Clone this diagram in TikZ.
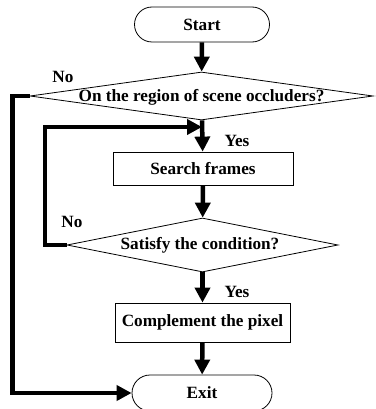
\documentclass[tikz,border=0pt]{standalone}
\usepackage{fontspec}
\setmainfont{Liberation Serif}
\usetikzlibrary{shapes.geometric,shapes.misc,arrows.meta}
\begin{document}
\begin{tikzpicture}[x=1pt,y=-1pt,
  txt/.style={font=\fontsize{17.2}{20}\selectfont\bfseries, inner sep=0pt},
  term/.style={rounded rectangle, draw, line width=0.8pt, inner sep=0pt, txt},
  proc/.style={rectangle, draw, line width=0.8pt, inner sep=0pt, txt},
  dia/.style={diamond, draw, line width=0.8pt, inner sep=0pt},
  flow/.style={line width=4.5pt, line join=miter, -{Triangle[length=15pt,width=15pt]}},
  lbl/.style={txt}]
\useasboundingbox (0,0) rectangle (375,409);
\node[term, minimum width=135pt, minimum height=35pt] (start) at (202,24.5) {Start};
\node[dia, minimum width=343pt, minimum height=48pt] (d1) at (201.5,96) {};
\node[txt] (d1t) at (201.5,97.5) {On the region of scene occluders?};
\node[proc, minimum width=180pt, minimum height=33pt] (search) at (203,168.5) {Search frames};
\node[dia, minimum width=271pt, minimum height=54pt] (d2) at (202.5,245) {};
\node[txt] (d2t) at (200,245) {Satisfy the condition?};
\node[proc, minimum width=175pt, minimum height=39pt] (comp) at (202.5,322.5) {Complement the pixel};
\node[term, minimum width=140pt, minimum height=36pt] (exit) at (202,393) {Exit};
\coordinate (j) at (202,127);
\node[lbl] (no1) at (63,77) {No};
\node[lbl] (yes1) at (237,141) {Yes};
\node[lbl] (no2) at (72,222) {No};
\node[lbl] (yes2) at (237,292) {Yes};
\draw[flow] (start) -- (d1);
\draw[flow] (d1) -- (search);
\draw[flow] (search) -- (d2);
\draw[flow] (d2) -- (comp);
\draw[flow] (comp) -- (exit);
\draw[flow] (d1.west) -- (12.5,96) |- (exit.west);
\draw[flow] (d2.west) -- (45,245) |- (j);
\end{tikzpicture}
\end{document}
